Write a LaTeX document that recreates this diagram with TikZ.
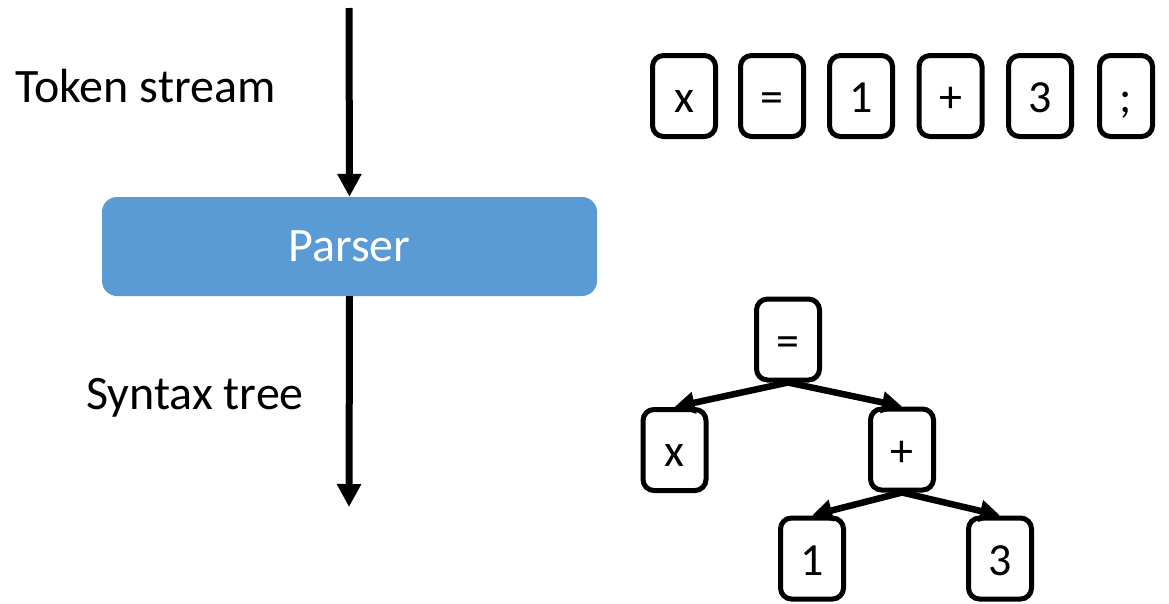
\documentclass[tikz,border=0pt]{standalone}
\usepackage{fontspec}
\setmainfont{Carlito}
\usetikzlibrary{arrows.meta}
\definecolor{parserblue}{RGB}{91,155,213}
\begin{document}
\begin{tikzpicture}[x=1pt,y=-1pt,
  every node/.style={font=\fontsize{48}{52}\selectfont},
  label/.style={inner sep=0pt, anchor=base west},
  tok/.style={draw, line width=5pt, rounded corners=11pt, minimum width=63pt, minimum height=81pt,
              inner sep=0pt, text height=33pt, text depth=0pt, font=\fontsize{46}{50}\selectfont},
  flow/.style={line width=7pt, -{Triangle[length=23pt,width=23pt]}},
  edge/.style={line width=6.5pt, -{Triangle[length=20pt,width=21pt]}}]
\useasboundingbox (0,0) rectangle (1169,603);

% left column
\coordinate (top) at (349,8);
\coordinate (bot) at (349,507);
\node[fill=parserblue, rounded corners=15pt, minimum width=495pt, minimum height=99pt, inner sep=0pt,
      text=white] (parser) at (349.5,246.5) {Parser};
\draw[flow] (top) -- (parser.north);
\draw[flow] (parser.south) -- (bot);
\node[label] (ts) at (15,102) {Token stream};
\node[label] (st) at (86,409) {Syntax tree};

% token stream
\node[tok] (t1) at (684,96) {x};
\node[tok] (t2) at (772,96) {=};
\node[tok] (t3) at (861,96) {1};
\node[tok] (t4) at (950.5,96) {+};
\node[tok] (t5) at (1040,96) {3};
\node[tok, minimum width=53pt] (t6) at (1126,96) {;};

% syntax tree
\node[tok] (eq) at (788,339.5) {=};
\node[tok] (vx) at (674.5,450) {x};
\node[tok] (pl) at (902,449.5) {+};
\node[tok] (n1) at (812,558.5) {1};
\node[tok] (n3) at (1000,558.5) {3};
\draw[edge] (eq.south) -- (vx.north);
\draw[edge] (eq.south) -- (pl.north);
\draw[edge] (pl.south) -- (n1.north);
\draw[edge] (pl.south) -- (n3.north);
\end{tikzpicture}
\end{document}
